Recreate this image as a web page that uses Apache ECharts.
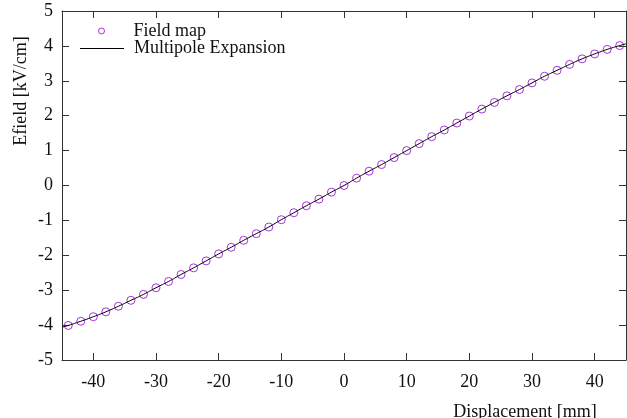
<!DOCTYPE html>
<html>
<head>
<meta charset="utf-8">
<script src="https://cdn.jsdelivr.net/npm/echarts@6/dist/echarts.min.js"></script>
<style>
  html, body { margin: 0; padding: 0; background: #fff; }
  #chart { width: 627px; height: 418px; }
</style>
</head>
<body>
<div id="chart"></div>
<script>
// Field map samples: displacement [mm] and field [kV/cm]
var fieldX = [-44, -42, -40, -38, -36, -34, -32, -30, -28, -26, -24, -22, -20, -18, -16, -14, -12, -10, -8, -6, -4, -2,
              0, 2, 4, 6, 8, 10, 12, 14, 16, 18, 20, 22, 24, 26, 28, 30, 32, 34, 36, 38, 40, 42, 44];
var fieldY = [-4.01, -3.89, -3.76, -3.62, -3.46, -3.29, -3.12, -2.93, -2.75, -2.55, -2.36, -2.16, -1.96, -1.77, -1.57, -1.38, -1.19, -0.98, -0.78, -0.58, -0.39, -0.19,
              0.00, 0.21, 0.41, 0.60, 0.80, 1.00, 1.20, 1.40, 1.59, 1.79, 1.99, 2.19, 2.38, 2.57, 2.75, 2.94, 3.13, 3.30, 3.47, 3.63, 3.77, 3.90, 4.01];

// Multipole expansion curve
var expX = [-45, -44, -42, -40, -38, -36, -34, -32, -30, -28, -26, -24, -22, -20, -18, -16, -14, -12, -10, -8, -6, -4, -2,
            0, 2, 4, 6, 8, 10, 12, 14, 16, 18, 20, 22, 24, 26, 28, 30, 32, 34, 36, 38, 40, 42, 44, 45];
var expY = [-4.06, -4.01, -3.89, -3.76, -3.62, -3.46, -3.29, -3.12, -2.93, -2.75, -2.55, -2.36, -2.16, -1.96, -1.77, -1.57, -1.38, -1.19, -0.98, -0.78, -0.58, -0.39, -0.19,
            0.00, 0.21, 0.41, 0.60, 0.80, 1.00, 1.20, 1.40, 1.59, 1.79, 1.99, 2.19, 2.38, 2.57, 2.75, 2.94, 3.13, 3.30, 3.47, 3.63, 3.77, 3.90, 4.01, 4.06];

var seriesNames = ['Field map', 'Multipole Expansion'];
var xTitle = 'Displacement [mm]';
var yTitle = 'Efield [kV/cm]';

function pairs(xs, ys) {
  return xs.map(function (x, i) { return [x, ys[i]]; });
}

var FONT = '"Liberation Serif", "Times New Roman", serif';
var AXIS_COLOR = '#333';
var TEXT_COLOR = '#111';
var MARK_COLOR = '#9400d3';

var chart = echarts.init(document.getElementById('chart'), null, { renderer: 'canvas' });

function frameAxis(extra) {
  return Object.assign({
    axisLine: { show: true, onZero: false, lineStyle: { color: AXIS_COLOR, width: 1 } },
    axisTick: { show: true, inside: true, length: 7, lineStyle: { color: AXIS_COLOR, width: 1 } },
    splitLine: { show: false }
  }, extra);
}

var legendText = { fontFamily: FONT, fontSize: 18, color: TEXT_COLOR, padding: [0, 0, 0, 5] };

chart.setOption({
  animation: false,
  backgroundColor: '#fff',
  grid: { left: 62, right: 1, top: 11, bottom: 58, containLabel: false },
  legend: [
    {
      left: 93, top: 17,
      itemWidth: 44, itemHeight: 6,
      itemStyle: { borderWidth: 1 },
      data: [seriesNames[0]],
      textStyle: legendText
    },
    {
      left: 75, top: 34.5,
      itemWidth: 44, itemHeight: 1,
      icon: 'rect',
      data: [seriesNames[1]],
      textStyle: legendText
    }
  ],
  xAxis: [
    frameAxis({
      type: 'value', min: -45, max: 45, splitNumber: 9, position: 'bottom',
      axisLabel: {
        fontFamily: FONT, fontSize: 18, color: TEXT_COLOR, margin: 13,
        showMinLabel: false, showMaxLabel: false
      }
    }),
    frameAxis({
      type: 'value', min: -45, max: 45, splitNumber: 9, position: 'top',
      axisLabel: { show: false }
    })
  ],
  yAxis: [
    frameAxis({
      type: 'value', min: -5, max: 5, interval: 1, position: 'left',
      axisLabel: { fontFamily: FONT, fontSize: 18, color: TEXT_COLOR, margin: 9 }
    }),
    frameAxis({
      type: 'value', min: -5, max: 5, interval: 1, position: 'right',
      axisLabel: { show: false }
    })
  ],
  graphic: [
    {
      type: 'text', x: 525, y: 412,
      style: {
        text: xTitle, align: 'center', verticalAlign: 'middle',
        font: '18px ' + FONT, fill: TEXT_COLOR
      }
    },
    {
      type: 'text', x: 21, y: 91, rotation: Math.PI / 2,
      style: {
        text: yTitle, align: 'center', verticalAlign: 'middle',
        font: '18px ' + FONT, fill: TEXT_COLOR
      }
    }
  ],
  series: [
    {
      name: seriesNames[0],
      type: 'scatter',
      xAxisIndex: 0, yAxisIndex: 0,
      symbol: 'circle',
      symbolSize: 8,
      itemStyle: { color: 'rgba(0,0,0,0)', borderColor: MARK_COLOR, borderWidth: 1 },
      data: pairs(fieldX, fieldY),
      z: 2
    },
    {
      name: seriesNames[1],
      type: 'line',
      xAxisIndex: 0, yAxisIndex: 0,
      showSymbol: false,
      symbol: 'none',
      smooth: true,
      lineStyle: { color: '#000', width: 1 },
      itemStyle: { color: '#000' },
      data: pairs(expX, expY),
      z: 3
    }
  ]
});
</script>
</body>
</html>
